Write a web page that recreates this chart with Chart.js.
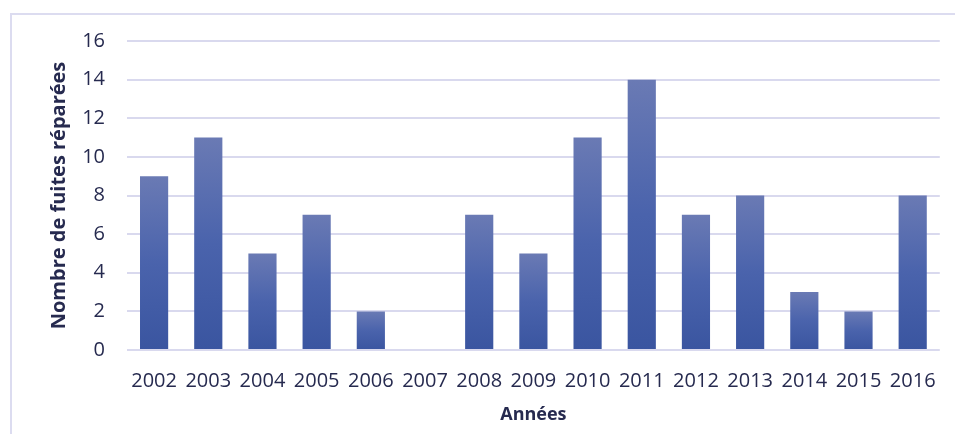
<!DOCTYPE html>
<html>
<head>
<meta charset="utf-8">
<script src="https://cdn.jsdelivr.net/npm/chart.js@4"></script>
<style>
  html, body { margin: 0; padding: 0; background: #fff; }
  #frame { position: absolute; left: 10px; top: 13px; width: 960px; height: 440px; border: 2px solid #dcdcf0; box-sizing: border-box; }
  #wrap { position: absolute; left: 0; top: 0; width: 955px; height: 434px; }
</style>
</head>
<body>
<div id="frame"></div>
<div id="wrap"><canvas id="myChart"></canvas></div>
<script>
const years = ['2002','2003','2004','2005','2006','2007','2008','2009','2010','2011','2012','2013','2014','2015','2016']
const leaks = [9, 11, 5, 7, 2, 0, 7, 5, 11, 14, 7, 8, 3, 2, 8]
const yTitle = 'Nombre de fuites réparées'
const xTitle = 'Années'

const textColor = '#262a4f'
const gridColor = '#d9d9ee'
const padLeft = 43
const padBottom = 4

// each bar gets its own top-to-bottom gradient
function barFill(context){
	const chart = context.chart
	if(!chart.chartArea || !chart.scales.y) return '#4a63ac'
	const y = chart.scales.y
	const v = leaks[context.dataIndex]
	const top = y.getPixelForValue(v)
	const bottom = y.getPixelForValue(0)
	if(!(bottom - top > 0)) return '#4a63ac'
	const g = chart.ctx.createLinearGradient(0, top, 0, bottom)
	g.addColorStop(0, '#6a7ab4')
	g.addColorStop(0.5, '#4a63ac')
	g.addColorStop(1, '#3a55a0')
	return g
}

var ctx = document.getElementById('myChart').getContext('2d');
new Chart(ctx, {
	type: 'bar',
	data: {
		labels: years,
		datasets: [{
			label: yTitle,
			data: leaks,
			backgroundColor: barFill,
			borderWidth: 0,
			categoryPercentage: 1,
			barPercentage: 0.52
		}]
	},
	options: {
		responsive: true,
		maintainAspectRatio: false,
		animation: false,
		layout: { padding: { left: padLeft, right: 13, top: 41, bottom: padBottom } },
		plugins: {
			legend: { display: false },
			tooltip: { enabled: false }
		},
		scales: {
			x: {
				afterFit: scale => { scale.height = 434 - padBottom - 350 },
				grid: { display: false, drawTicks: false },
				border: { display: false },
				ticks: { color: textColor, font: { family: 'Open Sans', size: 20 }, padding: 19, maxRotation: 0, autoSkip: false },
				title: { display: true, text: xTitle, color: textColor, font: { family: 'Open Sans', size: 18, weight: 'bold' }, padding: { top: 2 } }
			},
			y: {
				min: 0,
				max: 16,
				afterFit: scale => { scale.width = 127 - padLeft },
				ticks: { stepSize: 2, color: textColor, font: { family: 'Open Sans', size: 20 }, padding: 22 },
				grid: { color: gridColor, lineWidth: 2, drawTicks: false },
				border: { display: false },
				title: { display: true, text: yTitle, color: textColor, font: { family: 'Open Sans', size: 20, weight: 'bold' }, padding: { bottom: 4 } }
			}
		}
	}
});
</script>
</body>
</html>
